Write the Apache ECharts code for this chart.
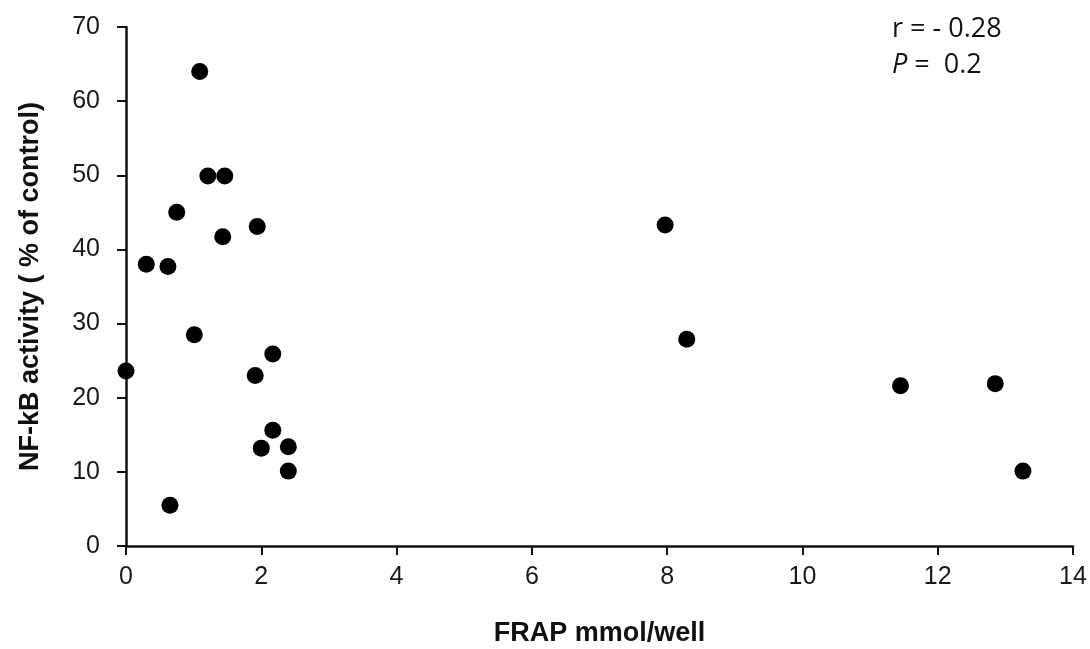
<!DOCTYPE html>
<html>
<head>
<meta charset="utf-8">
<script src="https://cdn.jsdelivr.net/npm/echarts@6/dist/echarts.min.js"></script>
<style>
  html, body { margin: 0; padding: 0; background: #ffffff; }
  #chart { width: 1090px; height: 649px; }
</style>
</head>
<body>
<div id="chart"></div>
<script>
// FRAP (mmol/well) vs NF-kB activity (% of control)
const frap = [1.09, 1.21, 1.46, 0.75, 1.43, 1.94, 0.30, 0.62, 1.01, 0.00, 2.17, 1.91, 2.17, 2.00, 2.40, 2.40, 0.65, 7.97, 8.29, 11.45, 12.85, 13.26];
const nfkb = [64.0, 49.9, 49.9, 45.0, 41.7, 43.1, 38.0, 37.7, 28.5, 23.6, 25.9, 23.0, 15.6, 13.2, 13.4, 10.1, 5.5, 43.3, 27.9, 21.6, 21.9, 10.1];
const statLines = ['r = - 0.28', 'P =  0.2'];

const points = frap.map((x, i) => [x, nfkb[i]]);

const chart = echarts.init(document.getElementById('chart'));

const sans = 'Liberation Sans, Arial, sans-serif';
const statFont = '"Open Sans", "Noto Sans", sans-serif';
const axisText = { color: '#1a1a1a', fontFamily: sans, fontSize: 25 };
const titleText = { color: '#111', fontFamily: sans, fontSize: 27, fontWeight: 'bold' };

chart.setOption({
  backgroundColor: '#ffffff',
  animation: false,
  grid: { left: 126, right: 17, top: 27, bottom: 103, outerBoundsMode: 'none', containLabel: false },
  xAxis: {
    type: 'value',
    min: 0,
    max: 14,
    interval: 2,
    name: 'FRAP mmol/well',
    nameLocation: 'middle',
    nameGap: 74,
    nameTextStyle: titleText,
    axisLine: { show: true, onZero: false, lineStyle: { color: '#111', width: 2.5 } },
    axisTick: { show: true, length: 9, lineStyle: { color: '#111', width: 2 } },
    axisLabel: Object.assign({ margin: 19 }, axisText),
    splitLine: { show: false }
  },
  yAxis: {
    type: 'value',
    min: 0,
    max: 70,
    interval: 10,
    name: 'NF-kB activity ( % of control)',
    nameLocation: 'middle',
    nameGap: 82,
    nameTextStyle: titleText,
    axisLine: { show: true, onZero: false, lineStyle: { color: '#111', width: 2.5 } },
    axisTick: { show: true, length: 9, lineStyle: { color: '#111', width: 2 } },
    axisLabel: Object.assign({ margin: 26 }, axisText),
    splitLine: { show: false }
  },
  graphic: [
    {
      type: 'text',
      left: 892,
      top: 16,
      style: {
        text: statLines[0],
        fill: '#111',
        font: '27px ' + statFont
      }
    },
    {
      type: 'text',
      left: 892,
      top: 52,
      style: {
        text: '{i|P}{n|' + statLines[1].slice(1) + '}',
        rich: {
          i: { fill: '#111', fontStyle: 'italic', fontSize: 27, fontFamily: statFont },
          n: { fill: '#111', fontSize: 27, fontFamily: statFont }
        }
      }
    }
  ],
  series: [
    {
      type: 'scatter',
      data: points,
      symbol: 'circle',
      symbolSize: 17,
      itemStyle: { color: '#000000', opacity: 1 }
    }
  ]
});
</script>
</body>
</html>
